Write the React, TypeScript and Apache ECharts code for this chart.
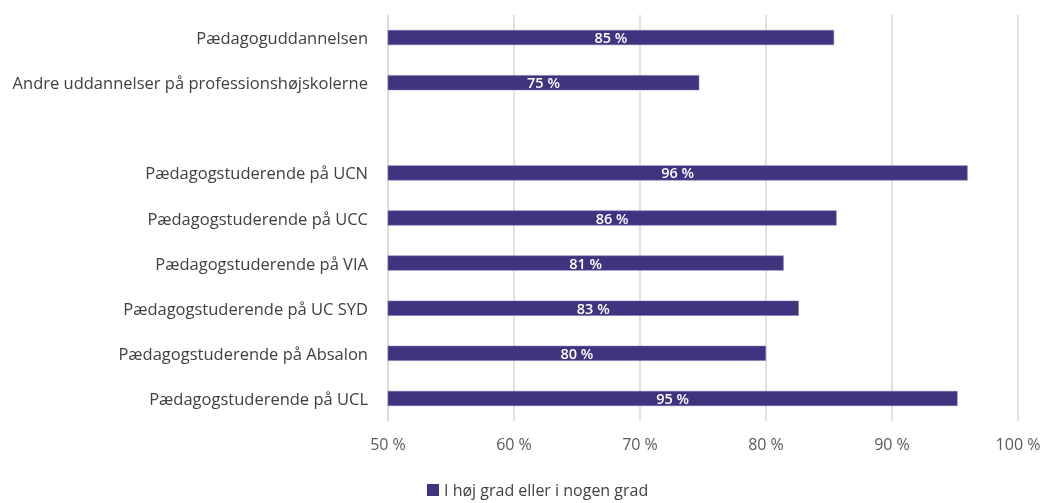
import React, { useEffect, useRef } from "react";
import * as echarts from "echarts";

const categories = [
  "Pædagoguddannelsen",
  "Andre uddannelser på professionshøjskolerne",
  "",
  "Pædagogstuderende på UCN",
  "Pædagogstuderende på UCC",
  "Pædagogstuderende på VIA",
  "Pædagogstuderende på UC SYD",
  "Pædagogstuderende på Absalon",
  "Pædagogstuderende på UCL",
];
const values: (number | null)[] = [85.4, 74.7, null, 96.0, 85.6, 81.4, 82.6, 80.0, 95.2];
const seriesName = "I høj grad eller i nogen grad";
const xTicks = { min: 50, max: 100, interval: 10 };

const FONT = "'Open Sans', 'Noto Sans', sans-serif";

export default function App() {
  const ref = useRef<HTMLDivElement>(null);
  useEffect(() => {
    if (!ref.current) return;
    const chart = echarts.init(ref.current, undefined, { renderer: "svg" });
    chart.setOption({
      animation: false,
      textStyle: { fontFamily: FONT },
      grid: { left: 388, right: 26, top: 15, bottom: 82, containLabel: false },
      legend: {
        bottom: 0,
        left: 422,
        itemWidth: 12,
        itemHeight: 12,
        itemGap: 3,
        icon: "rect",
        itemStyle: { borderWidth: 0 },
        textStyle: { color: "#404040", fontSize: 16, fontFamily: FONT },
        data: [seriesName],
      },
      xAxis: {
        type: "value",
        min: xTicks.min,
        max: xTicks.max,
        interval: xTicks.interval,
        axisLabel: {
          formatter: (v: number) => `${v} %`,
          color: "#595959",
          fontSize: 16,
          margin: 15,
          fontFamily: FONT,
        },
        axisLine: { show: false },
        axisTick: { show: false },
        splitLine: { lineStyle: { color: "#d9d9d9", width: 1.5 } },
      },
      yAxis: {
        type: "category",
        data: categories,
        inverse: true,
        axisLabel: { color: "#404040", fontSize: 16.5, margin: 20, fontFamily: FONT },
        axisLine: { show: true, lineStyle: { color: "#d9d9d9", width: 1.5 } },
        axisTick: { show: false },
      },
      series: [
        {
          name: seriesName,
          type: "bar",
          data: values,
          barWidth: 15,
          itemStyle: { color: "#41337f", borderColor: "#7a6fb0", borderWidth: 0.5 },
          label: {
            show: true,
            position: "inside",
            color: "#ffffff",
            fontSize: 14.5,
            fontWeight: 600,
            fontFamily: FONT,
            formatter: (p: any) => `${Math.round(p.value)} %`,
          },
        },
      ],
    });
    return () => chart.dispose();
  }, []);
  return (
    <div
      ref={ref}
      style={{ position: "fixed", left: 0, top: 0, width: 1044, height: 503 }}
    />
  );
}
